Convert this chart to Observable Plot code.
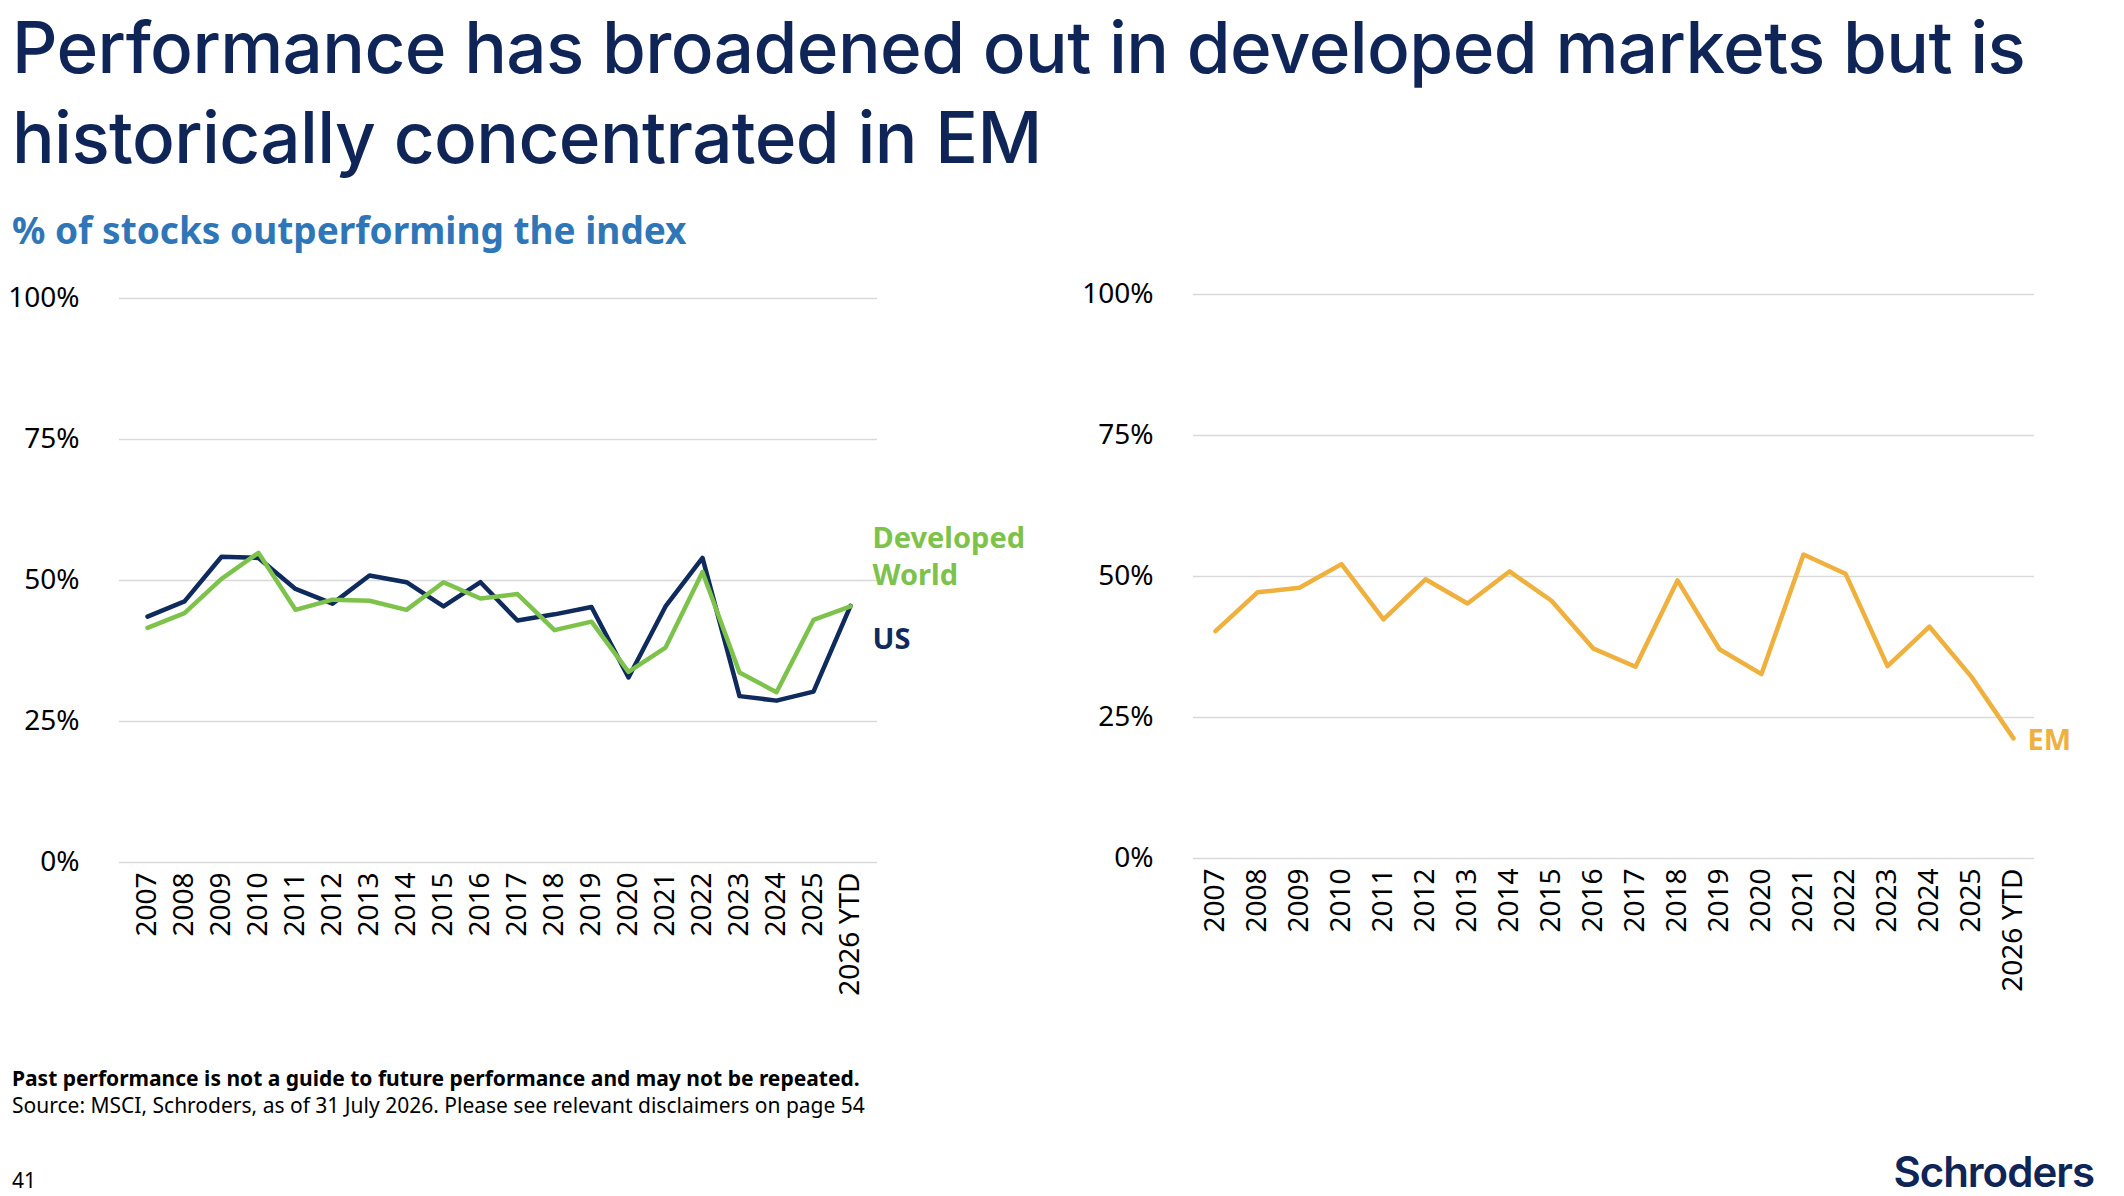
<!DOCTYPE html>
<html><head><meta charset="utf-8">
<script src="https://cdn.jsdelivr.net/npm/d3@7"></script>
<script src="https://cdn.jsdelivr.net/npm/@observablehq/plot@0.6"></script>
<style>
body{margin:0;width:2124px;height:1196px;background:#fff;position:relative;overflow:hidden;font-family:"Noto Sans",sans-serif}
#title{position:absolute;left:12px;top:2px;font-family:Inter,sans-serif;font-weight:500;font-size:71px;line-height:90px;color:#0f2557;letter-spacing:-0.6px}
#sub{position:absolute;left:12px;top:204px;font-weight:700;font-size:37px;color:#2f76b8}
#left{position:absolute;left:0;top:253px}
#right{position:absolute;left:1060px;top:249px}
#foot{position:absolute;left:12px;top:1065px;font-size:21px;line-height:27px;color:#000}
#page{position:absolute;left:12px;top:1166px;font-size:21px}
#logo{position:absolute;right:30px;top:1146px;font-family:Inter,sans-serif;font-weight:600;font-size:42px;color:#0f2557;letter-spacing:-1px}
</style></head><body>
<div id="title">Performance has broadened out in developed markets but is<br>historically concentrated in EM</div>
<div id="sub">% of stocks outperforming the index</div>
<div id="left"></div>
<div id="right"></div>
<div id="foot"><b>Past performance is not a guide to future performance and may not be repeated.</b><br>Source: MSCI, Schroders, as of 31 July 2026. Please see relevant disclaimers on page 54</div>
<div id="page">41</div>
<div id="logo">Schroders</div>
<script>
const years = ["2007","2008","2009","2010","2011","2012","2013","2014","2015","2016","2017","2018","2019","2020","2021","2022","2023","2024","2025","2026 YTD"];
const us = [43.6,46.3,54.2,54.0,48.5,45.9,50.9,49.7,45.4,49.7,42.9,44.0,45.3,32.8,45.4,54.0,29.5,28.7,30.3,45.5];
const dw = [41.6,44.2,50.3,54.9,44.8,46.6,46.4,44.8,49.7,46.8,47.6,41.2,42.7,33.8,38.1,51.5,33.7,30.2,43.0,45.4];
const em = [40.3,47.2,48.0,52.2,42.4,49.5,45.2,50.9,45.7,37.2,34.0,49.3,37.1,32.7,53.9,50.5,34.1,41.1,32.2,21.3];
const yTicks = [0,25,50,75,100];

const NAVY="#0f2a5c", GREEN="#7dc24b", ORANGE="#efb03d";
const rows = (arr, s) => arr.map((v,i)=>({year:years[i], v, s}));

function base(opts){
  return {
    width: opts.width, height: 769,
    marginTop: 45, marginBottom: 160, marginLeft: opts.ml, marginRight: opts.mr,
    style:{fontFamily:"Noto Sans", fontSize:"28px", color:"#000", background:"transparent"},
    x:{type:"point", domain:years, padding:0.5, label:null, tickSize:0, tickRotate:-90, tickPadding:10},
    y:{domain:[0,100], ticks:yTicks, label:null, tickSize:0, tickPadding:40, tickFormat:d=>d+"%"},
    marks: opts.marks
  };
}
const grid = Plot.ruleY(yTicks,{stroke:"#d9d9d9",strokeWidth:1.5});

const usD = rows(us,"US"), dwD = rows(dw,"DW"), emD = rows(em,"EM");
const left = Plot.plot(base({width:1060, ml:119, mr:183, marks:[
  grid,
  Plot.lineY(usD,{x:"year",y:"v",stroke:NAVY,strokeWidth:4.5}),
  Plot.lineY(dwD,{x:"year",y:"v",stroke:GREEN,strokeWidth:4.5}),
  Plot.text([dwD[dwD.length-1]],{x:"year",y:"v",text:()=>"Developed\nWorld",fill:GREEN,fontWeight:700,fontSize:29,textAnchor:"start",dx:22,dy:-52,lineHeight:1.3}),
  Plot.text([usD[usD.length-1]],{x:"year",y:"v",text:()=>"US",fill:NAVY,fontWeight:700,fontSize:29,textAnchor:"start",dx:22,dy:34})
]}));
document.getElementById("left").append(left);

const right = Plot.plot(base({width:1064, ml:133, mr:90, marks:[
  grid,
  Plot.lineY(emD,{x:"year",y:"v",stroke:ORANGE,strokeWidth:4.5}),
  Plot.text([emD[emD.length-1]],{x:"year",y:"v",text:"s",fill:ORANGE,fontWeight:700,fontSize:29,textAnchor:"start",dx:14,dy:2})
]}));
document.getElementById("right").append(right);
</script>
</body></html>
